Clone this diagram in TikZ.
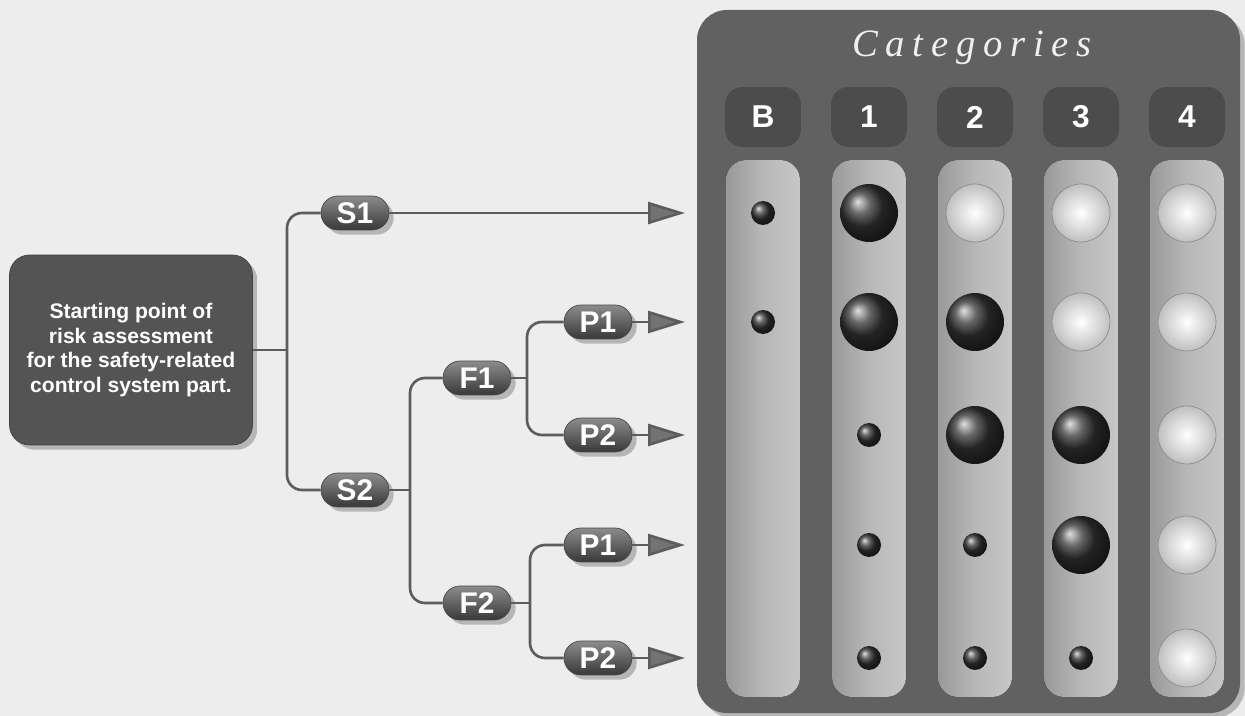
\documentclass[tikz,border=0pt]{standalone}
\usepackage{fontspec}
\setmainfont{Liberation Sans}
\newfontfamily\catfont[LetterSpace=20]{Liberation Serif}
\usetikzlibrary{shapes,arrows.meta,positioning,shadows}

\begin{document}
\begin{tikzpicture}[
  x=0.02cm, y=-0.02cm,
  link/.style={draw=black!64, line width=1.5pt, rounded corners=0.3cm},
  tip/.style={-{Triangle[length=0.74cm, width=0.44cm, fill=black!55]}},
  startbox/.style={rectangle, rounded corners=0.4cm, minimum width=4.86cm, minimum height=3.8cm,
    fill=black!67, draw=black!75, text=white, align=center, drop shadow,
    font=\bfseries\fontsize{12}{14}\selectfont},
  pill/.style={rounded rectangle, minimum width=1.36cm, minimum height=0.68cm, inner sep=0pt,
    top color=black!45, bottom color=black!78, draw=black!72, text=white, drop shadow,
    font=\bfseries\fontsize{17}{17}\selectfont},
  headbox/.style={rectangle, rounded corners=0.35cm, minimum width=1.52cm, minimum height=1.2cm,
    fill=black!70, text=white, font=\bfseries\fontsize{18}{18}\selectfont},
  colstrip/.style={left color=black!40, right color=black!22, middle color=black!28, rounded corners=0.4cm},
  dot1/.style={circle, minimum size=0.48cm, inner sep=0pt, shading=ball, ball color=black!80},
  dot2/.style={circle, minimum size=1.16cm, inner sep=0pt, shading=ball, ball color=black!80},
  dot3/.style={circle, minimum size=1.16cm, inner sep=0pt, inner color=white, outer color=black!25,
    draw=black!45, line width=0.4pt}
]
\fill[black!7] (0,0) rectangle (1245,716);
\useasboundingbox (0,0) rectangle (1245,716);

% risk graph
\node[startbox] (start) at (131,350) {Starting point of\\risk assessment\\for the safety-related\\control system part.};
\node[pill] (s1) at (355,213) {S1};
\node[pill] (s2) at (355,490) {S2};
\node[pill] (f1) at (477,378) {F1};
\node[pill] (f2) at (477,603) {F2};
\node[pill] (p11) at (598,322) {P1};
\node[pill] (p12) at (598,435) {P2};
\node[pill] (p21) at (598,545) {P1};
\node[pill] (p22) at (598,658) {P2};

\coordinate (j1) at (287,350);
\coordinate (j2) at (410,490);
\coordinate (j3) at (527,378);
\coordinate (j4) at (530,603);
\foreach \k/\y in {1/213,2/322,3/435,4/545,5/658}
  \coordinate (r\k) at (685,\y);

\draw[link] (start.east) -- (j1);
\draw[link] (s1.west) -| (j1) |- (s2.west);
\draw[link] (s2.east) -- (j2);
\draw[link] (f1.west) -| (j2) |- (f2.west);
\draw[link] (f1.east) -- (j3);
\draw[link] (p11.west) -| (j3) |- (p12.west);
\draw[link] (f2.east) -- (j4);
\draw[link] (p21.west) -| (j4) |- (p22.west);

\draw[link, tip] (s1.east) -- (r1);
\draw[link, tip] (p11.east) -- (r2);
\draw[link, tip] (p12.east) -- (r3);
\draw[link, tip] (p21.east) -- (r4);
\draw[link, tip] (p22.east) -- (r5);

% categories panel
\fill[black!62, rounded corners=0.6cm, drop shadow] (697,10) rectangle (1240,713);
\node[font=\catfont\itshape\fontsize{22}{22}\selectfont, text=black!6] (title) at (972,48) {Categories};
\foreach \lab [count=\i] in {B,1,2,3,4} {
  \node[headbox] (h\i) at ({763+106*(\i-1)},117) {\lab};
  \fill[colstrip] ({726+106*(\i-1)},160) rectangle ++(74,537);
}
\foreach \y/\a/\b/\c/\d/\e [count=\r] in {213/1/2/3/3/3, 322/1/2/2/3/3, 435/0/1/2/2/3, 545/0/1/1/2/3, 658/0/1/1/1/3}
  \foreach \m [count=\k] in {\a,\b,\c,\d,\e} {
    \ifnum\m>0 \node[dot\m] (b\r\k) at ({763+106*(\k-1)},\y) {}; \fi
  }
\end{tikzpicture}
\end{document}
